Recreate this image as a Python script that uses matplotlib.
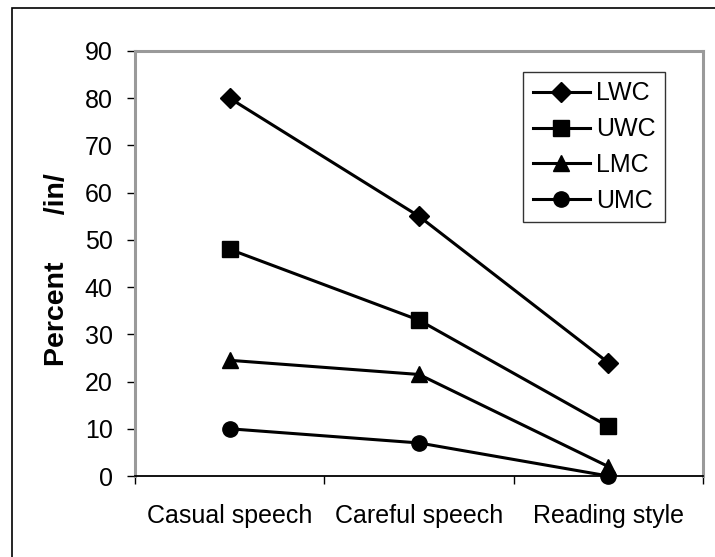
import matplotlib
matplotlib.use("Agg")
import matplotlib.pyplot as plt
from matplotlib.patches import Rectangle

# data
styles = ["Casual speech", "Careful speech", "Reading style"]
groups = ["LWC", "UWC", "LMC", "UMC"]
lwc = [80, 55, 24]
uwc = [48, 33, 10.5]
lmc = [24.5, 21.5, 2]
umc = [10, 7, 0]
yticks = [0, 10, 20, 30, 40, 50, 60, 70, 80, 90]

plt.rcParams['font.family'] = ['Liberation Sans', 'DejaVu Sans']

W, H = 715, 557
fig = plt.figure(figsize=(W / 100, H / 100), dpi=100)
fig.patch.set_facecolor('white')

# axes box in pixels: x 135..703, y 51..476
ax = fig.add_axes([135 / W, 1 - 476 / H, (703 - 135) / W, (476 - 51) / H])

xs = [i + 0.5 for i in range(len(styles))]
series = [(lwc, 'D', 10), (uwc, 's', 11), (lmc, '^', 12), (umc, 'o', 11)]
for (vals, mk, ms), name in zip(series, groups):
  ax.plot(xs, vals, color='black', lw=2.2, marker=mk, ms=ms,
          markerfacecolor='black', markeredgecolor='black',
          label=name, clip_on=False, zorder=3)

ax.set_xlim(0, len(styles))
ax.set_ylim(0, 90)
ax.set_yticks(yticks)
ax.set_xticks(range(len(styles) + 1))
ax.set_xticklabels([])
ax.set_xticks(xs, minor=True)
ax.set_xticklabels(styles, minor=True)
ax.tick_params(axis='x', which='minor', length=0, pad=20, labelsize=18)
ax.tick_params(axis='x', which='major', length=6, width=1, direction='out',
               color='black')
ax.tick_params(axis='y', length=6, width=1, direction='out', pad=10,
               labelsize=18, color='black')

for side in ['left', 'top', 'right']:
  ax.spines[side].set_color('#9a9a9a')
  ax.spines[side].set_linewidth(2.2)
ax.spines['bottom'].set_color('black')
ax.spines['bottom'].set_linewidth(1.3)
ax.spines['bottom'].set_zorder(4)

fig.text(57 / W, 1 - 270 / H, "Percent      /in/", rotation=90,
         fontsize=20.5, fontweight='bold', ha='center', va='center')

leg = ax.legend(loc='upper left',
                bbox_to_anchor=((523 - 135) / (703 - 135), (476 - 72) / (476 - 51)),
                fontsize=18, frameon=True, fancybox=False,
                handlelength=2.3, handletextpad=0.25, labelspacing=0.47,
                borderpad=0.38, borderaxespad=0)
leg.get_frame().set_edgecolor('black')
leg.get_frame().set_linewidth(1.0)

# outer chart border (left and top visible)
fig.add_artist(Rectangle((12 / W, -0.1), 1.2, 1.1 - 8 / H,
                         transform=fig.transFigure, fill=False,
                         edgecolor='black', lw=1.2))

fig.savefig("out.png", dpi=100)
